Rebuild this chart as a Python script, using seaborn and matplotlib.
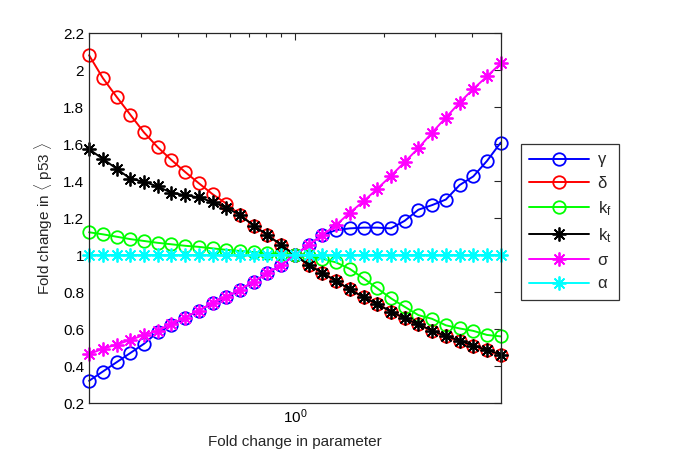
import numpy as np
import pandas as pd
import matplotlib
matplotlib.use("Agg")
import matplotlib.pyplot as plt
import matplotlib.ticker as mticker
import seaborn as sns

# ---- data ----
fold = [0.2, 0.2227, 0.2479, 0.2760, 0.3072, 0.3420, 0.3807, 0.4239, 0.4719, 0.5253,
        0.5848, 0.6511, 0.7248, 0.8070, 0.8984, 1.0, 1.1133, 1.2394, 1.3798, 1.5361,
        1.7100, 1.9037, 2.1194, 2.3595, 2.6267, 2.9242, 3.2555, 3.6242, 4.0348, 4.4918, 5.0]

gamma = [0.32, 0.37, 0.42, 0.47, 0.52, 0.583, 0.622, 0.662, 0.70, 0.74,
         0.772, 0.813, 0.856, 0.901, 0.946, 1.0, 1.054, 1.108, 1.135, 1.144,
         1.148, 1.148, 1.144, 1.185, 1.245, 1.27, 1.30, 1.378, 1.425, 1.509, 1.608]

delta = [2.08, 1.957, 1.856, 1.759, 1.663, 1.583, 1.514, 1.449, 1.388, 1.329,
         1.278, 1.217, 1.158, 1.108, 1.054, 1.0, 0.946, 0.904, 0.859, 0.815,
         0.772, 0.735, 0.694, 0.658, 0.625, 0.591, 0.562, 0.537, 0.51, 0.486, 0.462]

k_f = [1.123, 1.112, 1.099, 1.086, 1.076, 1.066, 1.058, 1.050, 1.044, 1.036,
       1.028, 1.022, 1.016, 1.010, 1.005, 1.0, 0.995, 0.98, 0.96, 0.925,
       0.874, 0.82, 0.766, 0.72, 0.675, 0.655, 0.62, 0.603, 0.59, 0.568, 0.56]

k_t = [1.572, 1.52, 1.467, 1.413, 1.396, 1.371, 1.336, 1.324, 1.311, 1.287,
       1.255, 1.217, 1.158, 1.108, 1.054, 1.0, 0.946, 0.904, 0.859, 0.815,
       0.772, 0.735, 0.694, 0.658, 0.625, 0.591, 0.562, 0.537, 0.51, 0.486, 0.462]

sigma = [0.465, 0.493, 0.516, 0.541, 0.568, 0.59, 0.625, 0.662, 0.70, 0.74,
         0.772, 0.813, 0.856, 0.901, 0.946, 1.0, 1.054, 1.108, 1.162, 1.229,
         1.29, 1.358, 1.428, 1.503, 1.578, 1.662, 1.743, 1.824, 1.898, 1.966, 2.036]

alpha = [1.0] * 31

labels = ["γ", "δ", "$k_f$", "$k_t$", "σ", "α"]
yticks = [0.2, 0.4, 0.6, 0.8, 1.0, 1.2, 1.4, 1.6, 1.8, 2.0, 2.2]

# ---- styling ----
sns.set_style("white")
plt.rcParams["font.family"] = ["Liberation Sans", "DejaVu Sans"]
plt.rcParams["mathtext.fontset"] = "custom"
plt.rcParams["mathtext.rm"] = "Liberation Sans"
plt.rcParams["mathtext.it"] = "Liberation Sans"
plt.rcParams["mathtext.bf"] = "Liberation Sans:bold"

fig = plt.figure(figsize=(6.85, 4.59), dpi=100)
ax = fig.add_axes([0.130, 0.122, 0.601, 0.806])

series = [gamma, delta, k_f, k_t, sigma, alpha]
colors = ["#0000ff", "#ff0000", "#00ff00", "#000000", "#ff00ff", "#00ffff"]
asterisk = (8, 2, 0)
markers = ["o", "o", "o", asterisk, asterisk, asterisk]

for vals, lab, col, mk in zip(series, labels, colors, markers):
    df = pd.DataFrame({"x": fold, "y": vals})
    if mk == "o":
        sns.lineplot(data=df, x="x", y="y", ax=ax, color=col, lw=1.4,
                     marker="o", markersize=9, markerfacecolor="none",
                     markeredgecolor=col, markeredgewidth=1.3, label=lab,
                     clip_on=False)
    else:
        sns.lineplot(data=df, x="x", y="y", ax=ax, color=col, lw=1.4,
                     marker=mk, markersize=10, markeredgecolor=col,
                     markeredgewidth=1.3, label=lab, clip_on=False)

ax.set_xscale("log")
ax.set_xlim(0.2, 5)
ax.set_ylim(0.2, 2.2)
ax.set_yticks(yticks)
ax.yaxis.set_major_formatter(mticker.FormatStrFormatter("%g"))
ax.xaxis.set_major_locator(mticker.LogLocator(base=10, numticks=10))
ax.xaxis.set_minor_locator(mticker.LogLocator(base=10, subs=np.arange(2, 10), numticks=10))
ax.xaxis.set_minor_formatter(mticker.NullFormatter())

ax.tick_params(which="both", direction="in", top=True, right=True,
               colors="#262626", labelcolor="black", labelsize=11)
ax.tick_params(which="major", length=5, width=0.8)
ax.tick_params(which="minor", length=3, width=0.8)
for s in ax.spines.values():
    s.set_color("#262626")
    s.set_linewidth(0.9)

ax.set_xlabel("Fold change in parameter", fontsize=11, labelpad=6)
ax.set_ylabel(r"Fold change in $\langle$ p53 $\rangle$", fontsize=11, labelpad=6)

leg = ax.legend(loc="upper left", bbox_to_anchor=(1.049, 0.70), borderaxespad=0,
                frameon=True, fancybox=False, fontsize=12, handlelength=3.6,
                labelspacing=0.5, handletextpad=0.5, borderpad=0.5)
leg.get_frame().set_edgecolor("black")
leg.get_frame().set_linewidth(0.9)

fig.savefig("out.png", dpi=100)
